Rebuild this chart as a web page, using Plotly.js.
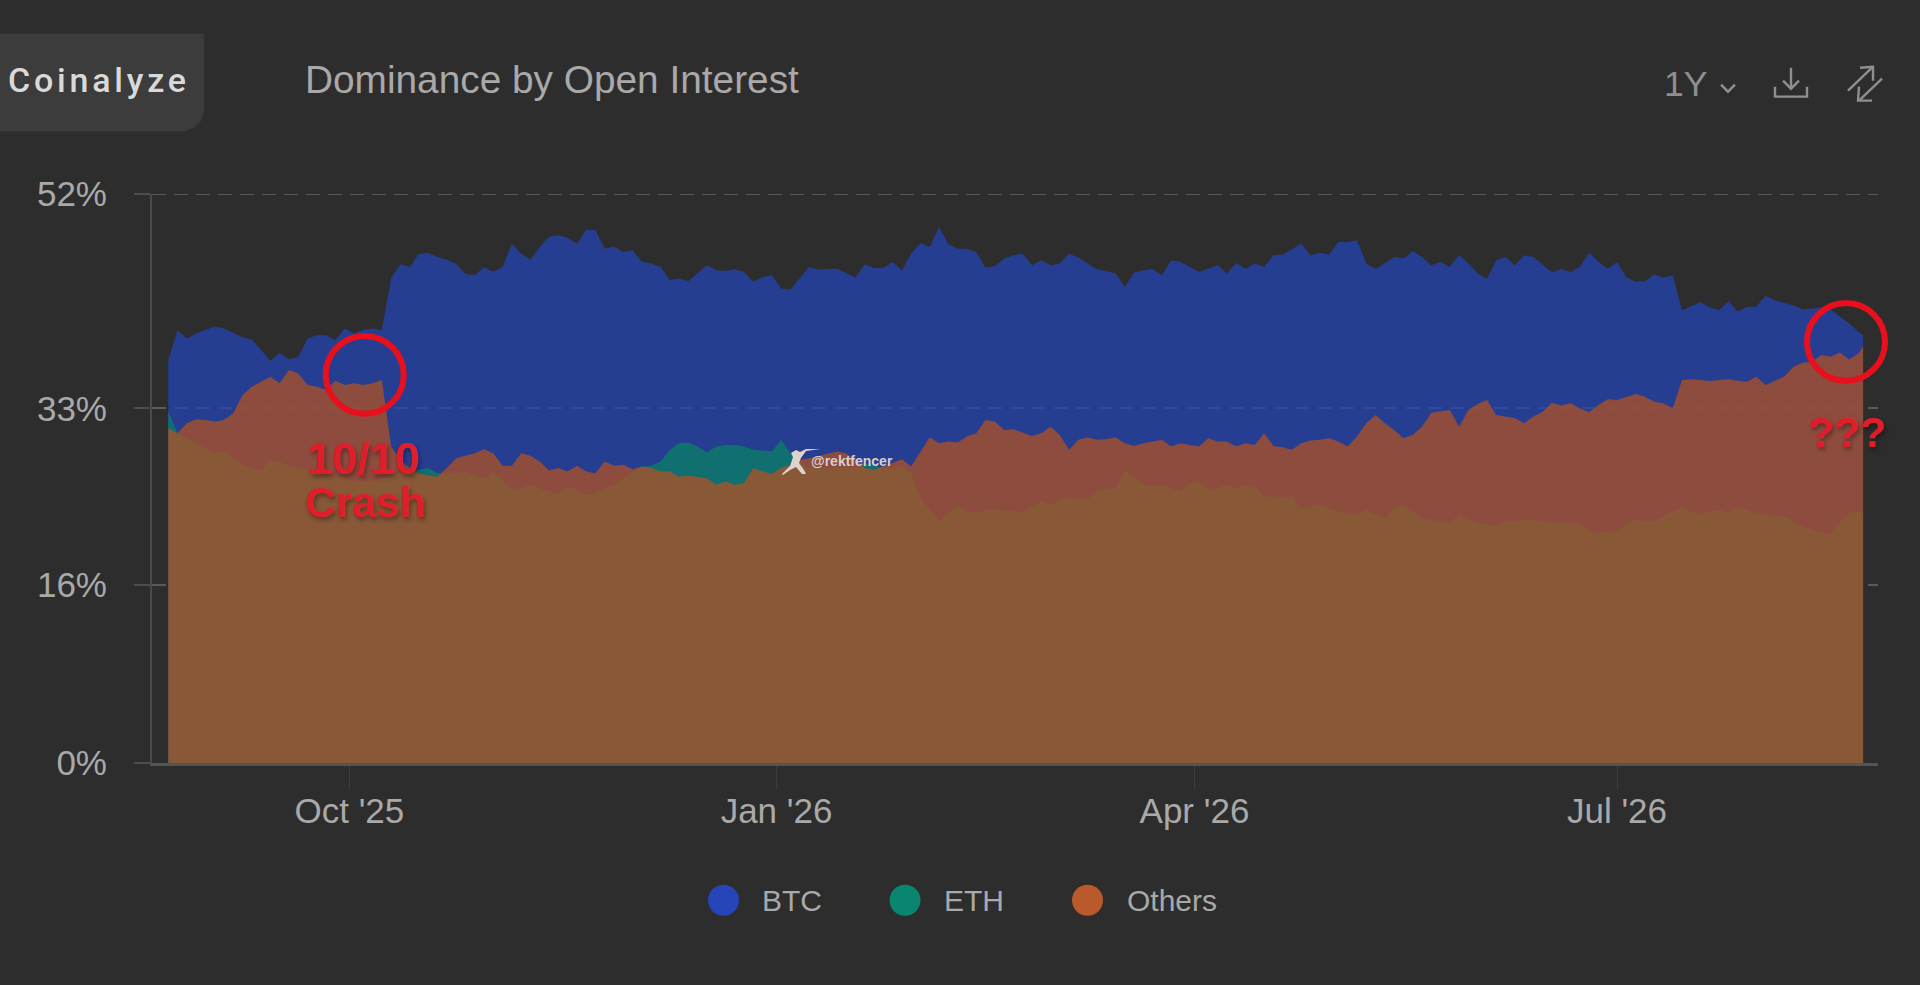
<!DOCTYPE html>
<html>
<head>
<meta charset="utf-8">
<script src="https://cdn.plot.ly/plotly-3.0.1.min.js"></script>
<style>html,body{margin:0;padding:0;background:#2d2d2d;overflow:hidden}#chart{width:1920px;height:985px}</style>
</head>
<body>
<div id="chart"></div>
<script>
// Dominance by Open Interest (%), one reading every two days from 23 Aug 2025
const btc = [
36.8,39.56,38.8,39.25,39.56,39.9,39.7,39.3,38.9,38.7,
37.7,36.75,37.5,36.9,37.1,38.8,39.1,39.1,38.65,39.7,
39.25,39.6,39.7,39.56,44.3,45.6,45.3,46.55,46.6,46.25,
46,45.6,44.7,44.6,45.3,44.9,45.33,47.46,46.55,46,
47.16,48.07,48.22,48,47.46,48.74,48.68,47,47.2,46.7,
46.85,45.8,45.64,45.33,44.12,44.27,44.03,44.73,45.49,45.03,
44.97,45.12,44.88,43.97,44.42,44.57,43.36,43.27,44.27,45.33,
45.09,45.12,45.18,44.79,44.36,45.58,45.24,45.24,45.79,45.03,
46.55,47.52,47.16,48.98,47.4,47,47,46.7,45.27,45.4,
46.1,46.4,46.55,45.49,45.94,45.49,45.64,46.55,46.19,45.64,
45.12,44.97,44.73,43.51,44.82,45.03,45.12,44.57,45.94,45.79,
45.33,44.88,45.18,45.49,44.73,45.7,45.18,45.64,45.33,46.4,
46.46,47,47.46,46.4,46.64,46.46,47.61,47.61,47.77,45.64,
45.18,45.64,46.25,46.1,46.79,46.25,45.49,45.79,45.33,46.4,
45.64,44.73,44.27,45.94,46.25,45.49,46.4,46.25,45.49,44.82,
45.18,44.88,45.33,46.64,45.79,45.18,45.79,44.42,43.97,44.03,
44.64,44.36,44.57,41.38,41.75,42.14,41.63,41.38,42.2,41.23,
41.69,41.69,42.69,42.3,42.05,41.84,41.44,41.53,41.63,41.44,
40.77,40.17,39.41,39.1];
const eth = [
32.11,30.14,29.68,29.22,28.77,28.31,28.46,27.86,27.25,26.95,
26.79,27.7,27.55,27.1,26.95,26.79,26.64,26.34,26.19,26.03,
25.73,25.73,25.73,26.03,26.34,26.64,26.79,26.79,26.95,26.49,
26.49,26.49,26.64,26.34,26.03,26.64,25.88,25.03,25.12,25.43,
25.12,24.82,24.6,25.27,24.97,24.51,24.67,25.12,25.43,26.03,
26.64,27.1,27.16,27.55,28.62,29.22,29.28,28.92,28.37,28.92,
29.07,29.07,28.92,28.62,28.56,28.47,29.53,28.31,27.55,26.95,
26.95,26.95,26.95,26.95,26.95,27.4,27.25,26.95,26.95,27.1,
26.49,24.21,23.14,22.08,22.84,23.6,22.99,22.84,23.14,23.14,
23.05,22.99,22.99,23.45,23.91,23.6,24.06,24.21,24.12,24.12,
24.82,25.03,25.03,26.79,26.03,25.43,25.27,25.43,25.12,24.82,
25.58,25.73,24.91,25.12,25.43,25.12,25.43,25.27,24.36,24.36,
24.36,24.3,23.21,23.45,23.6,23.3,22.99,22.9,22.69,23.14,
22.69,22.39,23.3,23.6,22.99,22.39,22.23,22,22,22.69,
22.23,21.93,21.78,21.78,22.08,22.08,22.23,22.23,22.08,21.93,
21.93,21.93,21.93,21.17,21.02,21.17,21.17,21.78,22.23,22.08,
22.08,22.54,22.99,23.39,22.99,22.69,22.99,23.14,22.84,23.45,
23.14,22.84,22.69,22.6,22.54,22.08,21.63,21.32,21.08,21.02,
22.08,22.84,22.99,22.84];
const others = [
30.59,30.14,31.05,31.41,31.35,31.2,31.35,31.96,33.63,34.39,
34.85,35.3,34.7,35.91,35.6,34.54,34.39,34.09,34.94,34.54,
34.7,34.54,34.7,35,28.92,27.7,26.95,26.49,26.25,26.19,
26.95,27.86,28.07,28.31,28.68,28.31,27.16,27.16,28.31,28.07,
27.55,26.73,26.95,26.64,27.16,26.64,26.49,27.55,27.16,27.25,
26.85,27.1,26.95,26.64,26.64,26.19,26.25,26.12,26.03,25.43,
25.73,25.43,25.58,26.95,26.64,26.43,26.95,27.25,27.7,27.85,
28.07,28.31,28.47,28.31,27.7,26.95,26.79,27.1,27.4,27.76,
27.1,28.47,29.77,29.22,29.38,29.28,29.83,30.14,31.35,31.2,
30.44,30.5,30.2,29.89,30.14,30.74,29.98,28.62,29.53,29.77,
29.53,29.59,29.77,29.22,28.98,29.22,29.38,29.53,28.92,29.22,
29.07,28.92,29.68,29.38,29.38,28.92,29.22,29.07,30.14,28.98,
28.86,28.62,29.22,29.47,29.53,29.68,29.38,28.92,29.83,31.05,
31.81,31.05,30.44,29.68,29.98,30.74,32.02,32.11,32.26,30.74,
32.26,32.81,33.18,31.81,31.66,31.5,31.05,31.66,32.11,32.93,
32.66,32.87,32.42,32.05,32.72,33.24,33.18,33.48,33.72,33.48,
33.02,32.87,32.42,35,35.06,35,34.91,35,35.06,34.94,
34.85,35.3,34.54,34.94,35.3,36.22,36.58,36.67,37.28,37.13,
37.52,36.88,37.43,38.04];
const xTickDates = ['2025-10-01','2026-01-01','2026-04-01','2026-07-01'];
const xTickLabels = ["Oct '25","Jan '26","Apr '26","Jul '26"];
const yTickVals = [0,16.3,32.4,52];
const yTickLabels = ['0%','16%','33%','52%'];
const seriesNames = ['BTC','ETH','Others'];

const dates = btc.map((_, i) => new Date(Date.UTC(2025, 7, 23) + (i < 183 ? i * 2 : 365) * 864e5).toISOString().slice(0, 10));

// page pixels -> paper coordinates
const L = 152, R = 1878, T = 193.5, B = 763.5;
const px = x => (x - L) / (R - L);
const py = y => (B - y) / (B - T);
const path = (pts, close) => 'M' + pts.map(p => px(p[0]) + ',' + py(p[1])).join('L') + (close ? 'Z' : '');
const TXT = '#a9a9a9', FONT = '"Liberation Sans", Arial, sans-serif';
const GRID = '#5a5a5a', GRID_DASH = '14px,8px';

const area = (name, y, fill) => ({
  type: 'scatter', mode: 'lines', name, x: dates, y,
  fill: 'tozeroy', fillcolor: fill, line: {width: 0}, showlegend: false
});
const traces = [
  area(seriesNames[0], btc, 'rgba(35,68,176,0.77)'),
  area(seriesNames[1], eth, 'rgba(10,127,102,0.77)'),
  area(seriesNames[2], others, 'rgba(173,81,38,0.77)')
];

const ann = (text, x, y, size, color, font) => ({
  text, x: px(x), y: py(y), xref: 'paper', yref: 'paper', showarrow: false,
  xanchor: 'left', yanchor: 'middle', borderpad: 0,
  font: Object.assign({family: FONT, size, color}, font || {})
});

const RED_SHADOW = '2px 3px 4px rgba(0,0,0,0.35)';
const annotations = [
  ann('Coinalyze', 24, 79, 34, '#d9d9d9', {family: 'Roboto, sans-serif', weight: 500}),
  ann('Dominance by Open Interest', 304, 79, 38.8, TXT),
  ann('1Y', 1663, 83, 35.5, '#8f8f8f'),
  ann(seriesNames[0], 761, 901, 30, TXT),
  ann(seriesNames[1], 943, 901, 30, TXT),
  ann(seriesNames[2], 1126, 901, 30, TXT),
  ann('10/10', 306, 458, 45, '#e01e2b', {weight: 700, shadow: RED_SHADOW}),
  ann('Crash', 304, 503, 42.5, '#e01e2b', {weight: 700, shadow: RED_SHADOW}),
  ann('???', 1807, 432, 42.5, '#e01e2b', {weight: 700, shadow: RED_SHADOW}),
  ann('@rektfencer', 810, 461, 14, '#d9cfc8', {weight: 700})
];

const circle = (cx, cy, r, o) => Object.assign({
  type: 'circle', xref: 'paper', yref: 'paper', x0: px(cx - r), x1: px(cx + r), y0: py(cy + r), y1: py(cy - r), layer: 'above'
}, o);
const stroke = (pts, color) => ({type: 'path', xref: 'paper', yref: 'paper', layer: 'above', path: path(pts), line: {color: color || '#8f8f8f', width: 2.4}});

const shapes = [
  {type: 'path', xref: 'paper', yref: 'paper', layer: 'below', fillcolor: '#3c3c3c', line: {width: 0},
   path: path([[0,33],[204,33],[204,111],[201,120],[194,127],[184,131],[0,131]], true)},
  // gridline at the top of the range (Plotly drops the grid at the axis end)
  {type: 'line', xref: 'paper', yref: 'y', x0: 0, x1: 1, y0: 52, y1: 52, layer: 'below', line: {color: GRID, width: 2, dash: GRID_DASH}},
  circle(723.5, 901, 15.5, {fillcolor: '#2645b8', line: {width: 0}}),
  circle(905, 901, 15.5, {fillcolor: '#0a8570', line: {width: 0}}),
  circle(1087.5, 901, 15.5, {fillcolor: '#b85a2c', line: {width: 0}}),
  circle(364.7, 374.7, 39, {line: {color: '#e8101c', width: 6}}),
  circle(1846, 341.7, 39, {line: {color: '#e8101c', width: 6}}),
  // toolbar icons
  stroke([[1721,84],[1728,91],[1735,84]]),
  stroke([[1791,67],[1791,88]]),
  stroke([[1783,80],[1791,88],[1799,80]]),
  stroke([[1775,86],[1775,96],[1807,96],[1807,86]]),
  stroke([[1848,90],[1872,67]]),
  stroke([[1860,67],[1873,66],[1873,80]]),
  stroke([[1882,78],[1859,100]]),
  stroke([[1859,86],[1858,100],[1872,100]]),
  // watermark figure
  {type: 'path', xref: 'paper', yref: 'paper', layer: 'above', fillcolor: '#dcd3cc', line: {width: 0},
   path: path([[782,474],[790,466],[793,457],[791,453],[796,450],[800,452],[806,449],[820,449],[806,451],[801,458],[799,463],[804,470],[806,474],[802,474],[796,467],[790,470],[783,475]], true)}
];

const layout = {
  width: 1920, height: 985, autosize: false,
  margin: {l: L, r: 1920 - R, t: T, b: 985 - B, pad: 0},
  paper_bgcolor: '#2d2d2d', plot_bgcolor: '#2d2d2d',
  showlegend: false, hovermode: false,
  xaxis: {
    type: 'date', range: ['2025-08-19 12:00', '2026-08-26 05:00'], tickmode: 'array',
    tickvals: xTickDates, ticktext: xTickLabels, showgrid: false, zeroline: false,
    showline: true, linecolor: '#545454', linewidth: 3,
    ticks: 'outside', ticklen: 24, tickcolor: '#3c3c3c', tickwidth: 1, ticklabelstandoff: -9,
    tickfont: {family: FONT, size: 35, color: TXT}, fixedrange: true
  },
  yaxis: {
    range: [0, 52], tickmode: 'array', tickvals: yTickVals, ticktext: yTickLabels,
    showgrid: true, gridcolor: GRID, gridwidth: 2, griddash: GRID_DASH, zeroline: false,
    showline: true, linecolor: '#4a4a4a', linewidth: 2,
    ticks: 'outside', ticklen: 16, tickcolor: '#4d4d4d', tickwidth: 2, ticklabelstandoff: 20,
    tickfont: {family: FONT, size: 35, color: TXT}, fixedrange: true
  },
  annotations, shapes
};

Plotly.newPlot('chart', traces, layout, {displayModeBar: false, staticPlot: true}).then(gd => {
  gd.querySelectorAll('.annotation-text').forEach(t => {
    if (t.textContent === 'Coinalyze') t.style.letterSpacing = '3.8px';
  });
});
</script>
</body>
</html>
